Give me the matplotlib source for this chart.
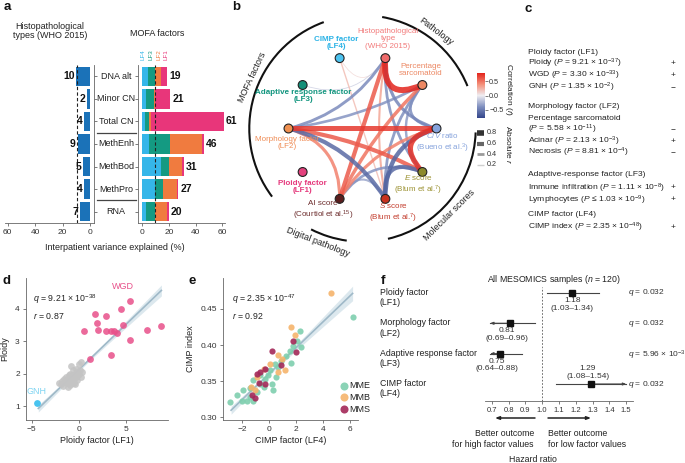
import numpy as np
import matplotlib
matplotlib.use("Agg")
import matplotlib.pyplot as plt
from matplotlib.colors import LinearSegmentedColormap, Normalize
from matplotlib.cm import ScalarMappable
from matplotlib.path import Path
from matplotlib.patches import PathPatch, Circle, Arc
from matplotlib.lines import Line2D

plt.rcParams["font.family"] = ["Liberation Sans", "DejaVu Sans"]
plt.rcParams["mathtext.fontset"] = "custom"
plt.rcParams["mathtext.rm"] = "Liberation Sans"
plt.rcParams["mathtext.it"] = "Liberation Sans:italic"
plt.rcParams["mathtext.bf"] = "Liberation Sans:bold"
plt.rcParams["font.size"] = 6
plt.rcParams["axes.linewidth"] = 0.6
plt.rcParams["axes.edgecolor"] = "#666666"
plt.rcParams["xtick.major.width"] = 0.6
plt.rcParams["ytick.major.width"] = 0.6
plt.rcParams["xtick.major.size"] = 2.5
plt.rcParams["ytick.major.size"] = 2.5
plt.rcParams["xtick.major.pad"] = 2
plt.rcParams["ytick.major.pad"] = 2
plt.rcParams["xtick.labelsize"] = 6
plt.rcParams["ytick.labelsize"] = 6
plt.rcParams["xtick.color"] = "#666666"
plt.rcParams["ytick.color"] = "#666666"
plt.rcParams["xtick.labelcolor"] = "#333333"
plt.rcParams["ytick.labelcolor"] = "#333333"
plt.rcParams["text.color"] = "#222222"

W, H = 685, 463
TXT = "#222222"

# ---------------- panel a data ----------------
VIEWS = ["DNA alt", "Minor CN", "Total CN", "MethEnh", "MethBod", "MethPro", "RNA"]
HISTO_VAR = [10, 2, 4, 9, 5, 4, 7]
LF4_VAR = [4.5, 3, 2, 5, 14, 10, 3]
LF3_VAR = [5.5, 6, 3.5, 16, 6.5, 6, 7]
LF2_VAR = [4, 1, 1.5, 23.5, 9, 10, 9]
LF1_VAR = [5, 11, 54, 1.5, 1.5, 1, 1]
TOTAL_VAR = [19, 21, 61, 46, 31, 27, 20]
VAR_CUTOFF = 9.5
LF_NAMES = ["LF4", "LF3", "LF2", "LF1"]
LF_COLORS = ["#35b6e9", "#149a82", "#f07b3f", "#e8367a"]
HISTO_COLOR = "#1b72b8"

# ---------------- panel b data ----------------
B_NODES = ["C/V ratio", "Percentage sarcomatoid", "Histopathological type",
           "CIMP factor (LF4)", "Adaptive response factor (LF3)",
           "Morphology factor (LF2)", "Ploidy factor (LF1)",
           "AI score", "S score", "E score"]
B_NODE_COLORS = ["#86a3dc", "#ec8863", "#f06b6b", "#4cc3f0", "#138f78",
                 "#f09050", "#e4427e", "#5a1e1e", "#c8321e", "#8c8a2c"]
B_EDGE_A = [2, 5, 0, 5, 5, 0, 9, 2, 1, 2, 1, 2, 1, 2, 1, 2, 1, 0, 9, 7, 5, 3, 4, 3]
B_EDGE_B = [1, 0, 9, 9, 8, 8, 8, 7, 7, 5, 5, 0, 0, 9, 9, 8, 8, 7, 7, 8, 7, 8, 2, 2]
B_EDGE_R = [0.85, 0.72, 0.75, 0.6, -0.6, -0.62, -0.6, 0.6, 0.5, -0.42, -0.38, -0.45,
            -0.4, -0.4, -0.35, 0.3, -0.4, 0.45, -0.38, -0.3, 0.45, 0.2, -0.12, 0.1]
ABS_R_LEVELS = [0.8, 0.6, 0.4, 0.2]

# ---------------- panel d data ----------------
D_GRAY_X = [-2.1, -1.9, -1.8, -1.6, -1.5, -1.4, -1.3, -1.2, -1.1, -1.0, -1.0, -0.9,
            -0.9, -0.8, -0.8, -0.7, -0.6, -0.6, -0.5, -0.5, -0.4, -0.3, -0.3, -0.2,
            -0.2, -0.1, 0.0, 0.0, 0.1, 0.2, 0.2, 0.3, -1.7, -1.2, -0.4]
D_GRAY_Y = [1.72, 1.68, 1.78, 1.85, 1.75, 1.9, 1.7, 1.82, 1.95, 1.65, 1.8, 2.0,
            1.75, 2.25, 1.88, 1.7, 1.95, 2.1, 1.85, 1.72, 2.0, 1.9, 2.15, 1.8,
            2.05, 1.95, 2.3, 2.0, 2.1, 2.35, 1.9, 2.05, 1.62, 1.6, 1.68]
D_WGD_X = [5.4, 4.46, 1.72, 2.88, 0.5, 1.88, 2.0, 2.88, 3.4, 3.65, 4.0, 4.63, 5.4,
           7.16, 8.67, 3.33, 1.2]
D_WGD_Y = [4.25, 3.98, 3.85, 3.77, 3.31, 3.57, 3.36, 3.31, 3.31, 3.31, 3.26, 3.5,
           3.05, 3.36, 3.46, 2.56, 2.46]
D_GNH_X = [-4.4]
D_GNH_Y = [1.1]
D_FIT = (0.28, 2.13)      # slope, intercept of the drawn regression line
D_FIT_RANGE = (-4.3, 8.7)

# ---------------- panel e data ----------------
E_MME_X = [-2.89, -2.4, -1.9, -1.4, -1.16, -0.67, -0.3, 0.2, 0.56, 0.44, 0.93, 1.56,
           1.8, 2.3, 2.4, 1.65, -1.65, -1.4, -0.9, -0.4, -0.05, -1.16, -2.0, 0.07,
           0.68, 1.3, 2.05, -0.67, 0.3, 6.25]
E_MME_Y = [0.321, 0.331, 0.337, 0.341, 0.351, 0.346, 0.353, 0.346, 0.355, 0.373,
           0.378, 0.392, 0.399, 0.42, 0.397, 0.375, 0.323, 0.328, 0.335, 0.342,
           0.358, 0.323, 0.323, 0.365, 0.369, 0.385, 0.406, 0.358, 0.337, 0.439]
E_MMB_X = [1.6, 1.9, 0.68, 0.98, 1.2, 0.7, -0.9, -1.0, -0.4, -1.3, 0.07, 4.6]
E_MMB_Y = [0.425, 0.414, 0.386, 0.381, 0.365, 0.363, 0.356, 0.337, 0.367, 0.342,
           0.374, 0.472]
E_MMS_X = [0.2, 1.8, 2.0, -0.67, -0.3, -0.9, -0.3, -0.77, -1.27, -1.0, 0.93]
E_MMS_Y = [0.392, 0.406, 0.39, 0.363, 0.367, 0.36, 0.346, 0.348, 0.331, 0.326, 0.372]
E_FIT = (0.018, 0.36)
E_FIT_RANGE = (-2.8, 6.2)

# ---------------- panel f data ----------------
HR_FACTORS = ["Ploidy factor\n(LF1)", "Morphology factor\n(LF2)",
              "Adaptive response factor\n(LF3)", "CIMP factor\n(LF4)"]
HR_EST = [1.18, 0.81, 0.75, 1.29]
HR_LO = [1.03, 0.69, 0.64, 1.08]
HR_HI = [1.34, 0.96, 0.88, 1.54]
HR_Q = ["$q$ = 0.032", "$q$ = 0.032", "$q$ = 5.96 × 10$^{-3}$", "$q$ = 0.032"]
HR_CLIP = (0.69, 1.5)


def box(x0, y0, x1, y1):
    return [x0 / W, 1 - y1 / H, (x1 - x0) / W, (y1 - y0) / H]


fig = plt.figure(figsize=(W / 100, H / 100), dpi=100)

# ================= panel a =================
yy = np.arange(len(VIEWS))
axL = fig.add_axes(box(5, 65, 94, 223))
axL.barh(yy, HISTO_VAR, height=0.86, color=HISTO_COLOR)
axL.set_xlim(62, -3)
axL.set_ylim(len(VIEWS) - 0.5, -0.5)
axL.axvline(VAR_CUTOFF, ls=(0, (3, 2)), color="#222222", lw=0.8)
for y, v in zip(yy, HISTO_VAR):
    axL.text(v + 1.3, y, str(v), ha="right", va="center", fontweight="bold", fontsize=7.5, color="#111111")
axL.set_xticks([60, 40, 20, 0])
axL.spines[["left", "top"]].set_visible(False)
axL.yaxis.tick_right()
axL.set_yticks(yy)
axL.set_yticklabels([])

axR = fig.add_axes(box(138, 65, 225, 223))
left = np.zeros(len(VIEWS))
for vals, col in zip([LF4_VAR, LF3_VAR, LF2_VAR, LF1_VAR], LF_COLORS):
    axR.barh(yy, vals, left=left, height=0.86, color=col)
    left += np.array(vals)
axR.set_xlim(-3, 62)
axR.set_ylim(len(VIEWS) - 0.5, -0.5)
axR.axvline(VAR_CUTOFF, ls=(0, (3, 2)), color="#222222", lw=0.8)
for y, v in zip(yy, TOTAL_VAR):
    axR.text(v + 1.5, y, str(v), ha="left", va="center", fontweight="bold", fontsize=7.5,
             color="#111111", clip_on=False)
axR.set_xticks([0, 20, 40, 60])
axR.spines[["right", "top"]].set_visible(False)
axR.set_yticks(yy)
axR.set_yticklabels([])

# ================= panel b =================
axB = fig.add_axes(box(270, 54, 455, 203))
axB.set_xlim(-1.25, 1.25)
axB.set_ylim(-1.0068, 1.0068)
axB.axis("off")

cmap = LinearSegmentedColormap.from_list(
    "corr", ["#34468a", "#7f8fbf", "#efedf1", "#f4907a", "#e3241c"])
norm = Normalize(-0.8, 0.8)

ang = np.deg2rad(np.arange(len(B_NODES)) * 36.0)
node_xy = np.column_stack([np.cos(ang), np.sin(ang)])

order = np.argsort(np.abs(B_EDGE_R))
for k in order:
    p0 = node_xy[B_EDGE_A[k]]
    p1 = node_xy[B_EDGE_B[k]]
    ctrl = 0.45 * (p0 + p1) / 2
    path = Path([p0, ctrl, p1], [Path.MOVETO, Path.CURVE3, Path.CURVE3])
    r = B_EDGE_R[k]
    axB.add_patch(PathPatch(path, fc="none", ec=cmap(norm(r)), lw=5.0 * abs(r),
                            alpha=0.85, capstyle="butt", clip_on=False, zorder=1))

for (x, y), col in zip(node_xy, B_NODE_COLORS):
    axB.add_patch(Circle((x, y), 0.06, fc=col, ec="#222222", lw=0.8, zorder=3, clip_on=False))

R_OUT = 1.53
for t1, t2 in [(110, 217), (22, 80), (-77, -2), (243, 262)]:
    axB.add_patch(Arc((0, 0), 2 * R_OUT, 2 * R_OUT, theta1=t1, theta2=t2, lw=1.5,
                      color="#111111", clip_on=False))
for text, a, rot in [("MOFA factors", 155, 65), ("Pathology", 53, -37),
                     ("Molecular scores", -45, 45), ("Digital pathology", 248.6, -21.4)]:
    rr = 1.65
    axB.text(rr * np.cos(np.deg2rad(a)), rr * np.sin(np.deg2rad(a)), text, rotation=rot,
             ha="center", va="center", fontsize=6.5, rotation_mode="anchor", color=TXT)

cax = fig.add_axes(box(477, 73, 485, 118))
cb = fig.colorbar(ScalarMappable(norm=norm, cmap=cmap), cax=cax)
cb.set_ticks([-0.5, 0, 0.5])
cb.outline.set_visible(False)
cax.tick_params(labelsize=5.2, length=2, pad=1)

# ================= panel d =================
axD = fig.add_axes(box(26, 278, 168, 420))
axD.scatter(D_GRAY_X, D_GRAY_Y, s=24, color="#c4c4c4", alpha=0.85, lw=0, zorder=2)
axD.scatter(D_WGD_X, D_WGD_Y, s=24, color="#e8508a", alpha=0.85, lw=0, zorder=2)
axD.scatter(D_GNH_X, D_GNH_Y, s=24, color="#48c3ef", lw=0, zorder=2)
all_x = np.array(D_GRAY_X + D_WGD_X + D_GNH_X)
all_y = np.array(D_GRAY_Y + D_WGD_Y + D_GNH_Y)
xs = np.linspace(*D_FIT_RANGE, 100)
fit = D_FIT[0] * xs + D_FIT[1]
resid = all_y - (D_FIT[0] * all_x + D_FIT[1])
s_res = np.sqrt(np.sum(resid ** 2) / (len(all_x) - 2))
se = 1.96 * s_res * np.sqrt(1 / len(all_x) + (xs - all_x.mean()) ** 2 / np.sum((all_x - all_x.mean()) ** 2))
axD.fill_between(xs, fit - se * 0.45, fit + se * 0.45, color="#d4e3ea", alpha=0.8, lw=0, zorder=1)
axD.plot(xs, fit, color="#9fb9c8", lw=1.2, zorder=1.5)
axD.set_xlim(-5.6, 9.4)
axD.set_ylim(0.57, 4.95)
axD.set_xticks([-5, 0, 5])
axD.set_yticks([1, 2, 3, 4])
axD.spines[["right", "top"]].set_visible(False)
axD.set_xlabel("Ploidy factor (LF1)", fontsize=6.5, labelpad=2, color=TXT)
axD.set_ylabel("Ploidy", fontsize=6.5, labelpad=4, color=TXT)
axD.text(4.6, 4.68, "WGD", color="#e8508a", ha="center", va="center", fontsize=6.5)
axD.text(-4.45, 1.45, "GNH", color="#7fd4f2", ha="center", va="center", fontsize=6.5)

# ================= panel e =================
axE = fig.add_axes(box(223, 278, 358, 420))
axE.scatter(E_MME_X, E_MME_Y, s=20, color="#7ecfae", alpha=0.9, lw=0, zorder=2, label="MME")
axE.scatter(E_MMB_X, E_MMB_Y, s=20, color="#f5b46c", alpha=0.9, lw=0, zorder=2, label="MMB")
axE.scatter(E_MMS_X, E_MMS_Y, s=20, color="#a32858", alpha=0.9, lw=0, zorder=2, label="MMS")
ex = np.array(E_MME_X + E_MMB_X + E_MMS_X)
ey = np.array(E_MME_Y + E_MMB_Y + E_MMS_Y)
xs = np.linspace(*E_FIT_RANGE, 100)
fit = E_FIT[0] * xs + E_FIT[1]
resid = ey - (E_FIT[0] * ex + E_FIT[1])
s_res = np.sqrt(np.sum(resid ** 2) / (len(ex) - 2))
se = 1.96 * s_res * np.sqrt(1 / len(ex) + (xs - ex.mean()) ** 2 / np.sum((ex - ex.mean()) ** 2))
axE.fill_between(xs, fit - se * 0.7, fit + se * 0.7, color="#d4e3ea", alpha=0.8, lw=0, zorder=1)
axE.plot(xs, fit, color="#9fb9c8", lw=1.2, zorder=1.5)
axE.set_xlim(-3.4, 6.6)
axE.set_ylim(0.296, 0.493)
axE.set_xticks([-2, 0, 2, 4, 6])
axE.set_yticks([0.30, 0.35, 0.40, 0.45])
axE.set_yticklabels(["0.30", "0.35", "0.40", "0.45"])
axE.spines[["right", "top"]].set_visible(False)
axE.set_xlabel("CIMP factor (LF4)", fontsize=6.5, labelpad=2, color=TXT)
axE.set_ylabel("CIMP index", fontsize=6.5, labelpad=4, color=TXT)
axE.legend(loc="lower right", bbox_to_anchor=(1.12, 0.02), frameon=False, fontsize=6.5,
           handletextpad=0.1, labelspacing=0.3, borderaxespad=0, handlelength=1.0,
           markerscale=1.3)

# ================= panel f =================
axF = fig.add_axes(box(485, 282, 633, 401))
rows = np.arange(len(HR_EST))
axF.set_xlim(0.66, 1.54)
axF.set_ylim(3.56, -0.36)
axF.axvline(1.0, ymax=0.96, ls=(0, (2, 2)), lw=0.6, color="#555555")
for k in rows:
    lo, hi, est = HR_LO[k], HR_HI[k], HR_EST[k]
    lo_d, hi_d = max(lo, HR_CLIP[0]), min(hi, HR_CLIP[1])
    axF.plot([lo_d, hi_d], [k, k], color="#444444", lw=0.8, zorder=1)
    if lo <= HR_CLIP[0]:
        axF.annotate("", xy=(HR_CLIP[0], k), xytext=(est, k),
                     arrowprops=dict(arrowstyle="-|>,head_length=0.3,head_width=0.12",
                                     color="#444444", lw=0.8, shrinkA=0, shrinkB=0))
    if hi > HR_CLIP[1]:
        axF.annotate("", xy=(HR_CLIP[1], k), xytext=(est, k),
                     arrowprops=dict(arrowstyle="-|>,head_length=0.3,head_width=0.12",
                                     color="#444444", lw=0.8, shrinkA=0, shrinkB=0))
    axF.plot(est, k, "s", color="#111111", ms=4.2, zorder=3)
    label = f"{est:.2f}\n({lo:.2f}–{hi:.2f})"
    if est > 1.25:
        axF.text(est - 0.02, k - 0.14, label, ha="center", va="bottom", fontsize=6,
                 linespacing=1.15, color="#333333")
    else:
        axF.text(est - 0.02 * (est < 1), k + 0.13, label, ha="center", va="top", fontsize=6,
                 linespacing=1.15, color="#333333")
    axF.text(1.512, k + (0.06 if k == 2 else 0), HR_Q[k], ha="left", va="center",
             fontsize=6, clip_on=False, color="#333333")
axF.set_xticks(np.round(np.arange(0.7, 1.51, 0.1), 1))
axF.set_xticklabels([f"{v:.1f}" for v in np.arange(0.7, 1.51, 0.1)], fontsize=5.5)
axF.set_yticks([])
axF.spines[["left", "right", "top"]].set_visible(False)

# ================= overlay: texts in pixel coordinates =================
ov = fig.add_axes([0, 0, 1, 1])
ov.set_xlim(0, W)
ov.set_ylim(H, 0)
ov.axis("off")
ov.patch.set_alpha(0)

for lab, (x, y) in zip("abcdef", [(7, 7), (236, 7), (528, 9), (7, 281), (192, 281), (383, 281)]):
    ov.text(x, y, lab, fontsize=9.5, fontweight="bold", ha="center", va="center", color="#111111")

# panel a texts
ov.text(50, 31, "Histopathological\ntypes (WHO 2015)", ha="center", va="center", fontsize=6.5,
        linespacing=1.1, color=TXT)
ov.text(157, 33, "MOFA factors", ha="center", va="center", fontsize=6.5, color=TXT)
for name, col, x in zip(LF_NAMES, LF_COLORS, [143, 151, 159, 166]):
    ov.text(x, 55, name, rotation=90, ha="center", va="center", fontsize=4.5, color=col)
slot = (223 - 65) / len(VIEWS)
for k, name in enumerate(VIEWS):
    ov.text(116, 65 + slot * (k + 0.5), name, ha="center", va="center", fontsize=6.5, color=TXT)
for k in [3, 6]:
    ov.plot([97, 136], [65 + slot * k] * 2, color="#444444", lw=0.9)
ov.text(115, 247, "Interpatient variance explained (%)", ha="center", va="center",
        fontsize=6.5, color=TXT)

# panel b node labels
node_labels = [
    (442, 143, "$C/V$ ratio\n(Bueno et al.$^{3}$)", B_NODE_COLORS[0], "normal"),
    (421, 70, "Percentage\nsarcomatoid", B_NODE_COLORS[1], "normal"),
    (388, 39, "Histopathological\ntype\n(WHO 2015)", "#f27b7b", "normal"),
    (336, 43, "CIMP factor\n(LF4)", "#2cb3e6", "bold"),
    (303, 96, "Adaptive response factor\n(LF3)", "#11957e", "bold"),
    (287, 143, "Morphology factor\n(LF2)", "#ef8c55", "normal"),
    (302, 187, "Ploidy factor\n(LF1)", "#e5397c", "bold"),
    (323, 211, "AI score\n(Courtiol et al.$^{15}$)", "#6b2b2b", "normal"),
    (393, 213, "$S$ score\n(Blum et al.$^{7}$)", "#c23a2a", "normal"),
    (418, 185, "$E$ score\n(Blum et al.$^{7}$)", "#9b9131", "normal"),
]
for x, y, t, col, wt in node_labels:
    ov.text(x, y, t, ha="center", va="center", fontsize=5.8, color=col, fontweight=wt,
            linespacing=1.1, zorder=5)

ov.text(509, 90, "Correlation ($r$)", rotation=270, ha="center", va="center", fontsize=6, color=TXT)
ov.text(509, 145, "Absolute $r$", rotation=270, ha="center", va="center", fontsize=6, color=TXT)
for k, (lvl, g) in enumerate(zip(ABS_R_LEVELS, ["#333333", "#666666", "#9a9a9a", "#cfcfcf"])):
    yl = 133 + 10.5 * k
    ov.add_line(Line2D([477, 484], [yl, yl], lw=5.0 * lvl, color=g, solid_capstyle="butt"))
    ov.text(487, yl, f"{lvl:.1f}", ha="left", va="center", fontsize=5.2, color="#333333")

# panel c texts
c_lines = [
    (52, "Ploidy factor (LF1)", ""),
    (63.5, "Ploidy ($P$ = 9.21 × 10$^{-37}$)", "+"),
    (75.5, "WGD ($P$ = 3.30 × 10$^{-33}$)", "+"),
    (87.5, "GNH ($P$ = 1.35 × 10$^{-2}$)", "−"),
    (107, "Morphology factor (LF2)", ""),
    (118, "Percentage sarcomatoid", ""),
    (129.5, "($P$ = 5.58 × 10$^{-11}$)", "−"),
    (141, "Acinar ($P$ = 2.13 × 10$^{-3}$)", "+"),
    (152.5, "Necrosis ($P$ = 8.81 × 10$^{-4}$)", "−"),
    (175, "Adaptive-response factor (LF3)", ""),
    (188, "Immune infiltration ($P$ = 1.11 × 10$^{-8}$)", "+"),
    (200, "Lymphocytes ($P$ ≤ 1.03 × 10$^{-9}$)", "+"),
    (215, "CIMP factor (LF4)", ""),
    (227, "CIMP index ($P$ = 2.35 × 10$^{-48}$)", "+"),
]
for y, t, sign in c_lines:
    ov.text(528, y, t, ha="left", va="center", fontsize=6.1, color=TXT)
    if sign:
        ov.text(673, y, sign, ha="center", va="center", fontsize=6, color=TXT)

# panel d / e stats
ov.text(33, 299, "$q$ = 9.21 × 10$^{-38}$", ha="left", va="center", fontsize=6.3, color=TXT)
ov.text(33, 316, "$r$ = 0.87", ha="left", va="center", fontsize=6.3, color=TXT)
ov.text(232, 299, "$q$ = 2.35 × 10$^{-47}$", ha="left", va="center", fontsize=6.3, color=TXT)
ov.text(232, 316, "$r$ = 0.92", ha="left", va="center", fontsize=6.3, color=TXT)

# panel f texts
ov.text(554, 280, "All MESOMICS samples ($n$ = 120)", ha="center", va="center", fontsize=6.3, color=TXT)
for k, name in enumerate(HR_FACTORS):
    yrow = 293 + 30.3 * k
    ov.text(380, yrow - 5, name, ha="left", va="top", fontsize=6.3, linespacing=1.2, color=TXT)
ov.annotate("", xy=(495, 418), xytext=(535, 418),
            arrowprops=dict(arrowstyle="-|>,head_length=0.4,head_width=0.15", color="#222222",
                            lw=1.1, shrinkA=0, shrinkB=0))
ov.annotate("", xy=(591, 418), xytext=(548, 418),
            arrowprops=dict(arrowstyle="-|>,head_length=0.4,head_width=0.15", color="#222222",
                            lw=1.1, shrinkA=0, shrinkB=0))
ov.text(534, 439, "Better outcome\nfor high factor values", ha="right", va="center", fontsize=6.3,
        linespacing=1.2, multialignment="right", color=TXT)
ov.text(548, 439, "Better outcome\nfor low factor values", ha="left", va="center", fontsize=6.3,
        linespacing=1.2, color=TXT)
ov.text(533, 459, "Hazard ratio", ha="center", va="center", fontsize=6.3, color=TXT)

fig.savefig("out.png", dpi=100)
